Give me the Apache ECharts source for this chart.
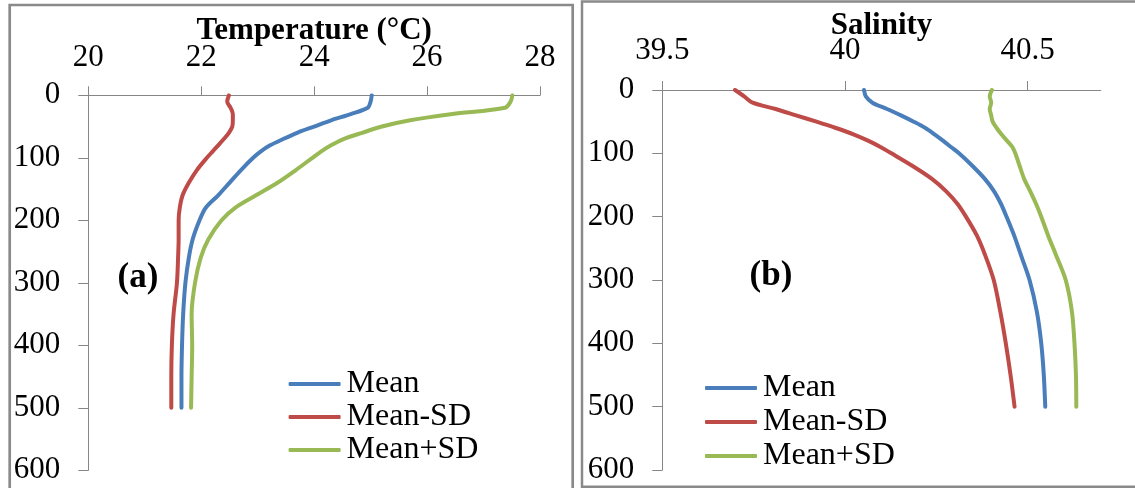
<!DOCTYPE html>
<html>
<head>
<meta charset="utf-8">
<script src="https://cdn.jsdelivr.net/npm/echarts@6/dist/echarts.min.js"></script>
<style>
  html, body { margin: 0; padding: 0; background: #fff; }
  #chart { width: 1135px; height: 488px; }
</style>
</head>
<body>
<div id="chart"></div>
<script>
// depth levels (m), shared by every profile
const depth = [0, 10, 20, 30, 40, 50, 60, 70, 80, 90, 100, 120, 140, 160, 180, 200, 230, 260, 300, 350, 400, 450, 500];

// temperature profiles (°C)
const tempMean   = [25.02, 25.00, 24.95, 24.65, 24.30, 24.00, 23.70, 23.45, 23.22, 23.05, 22.92, 22.70, 22.50, 22.30, 22.08, 21.97, 21.85, 21.78, 21.72, 21.68, 21.66, 21.65, 21.65];
const tempMinus  = [22.49, 22.46, 22.52, 22.56, 22.56, 22.55, 22.49, 22.40, 22.30, 22.20, 22.10, 21.92, 21.78, 21.67, 21.62, 21.60, 21.60, 21.59, 21.57, 21.51, 21.48, 21.47, 21.47];
const tempPlus   = [27.51, 27.48, 27.38, 26.45, 25.70, 25.20, 24.85, 24.52, 24.30, 24.12, 23.97, 23.67, 23.35, 22.97, 22.60, 22.36, 22.13, 21.99, 21.89, 21.83, 21.84, 21.83, 21.82];

// salinity profiles
const salMean  = [40.052, 40.057, 40.075, 40.115, 40.153, 40.188, 40.220, 40.245, 40.268, 40.290, 40.312, 40.349, 40.382, 40.408, 40.427, 40.442, 40.463, 40.481, 40.505, 40.525, 40.537, 40.544, 40.548];
const salMinus = [39.699, 39.724, 39.747, 39.810, 39.866, 39.922, 39.975, 40.023, 40.063, 40.097, 40.127, 40.185, 40.237, 40.277, 40.308, 40.331, 40.361, 40.383, 40.407, 40.425, 40.440, 40.453, 40.464];
const salPlus  = [40.402, 40.396, 40.400, 40.396, 40.400, 40.404, 40.415, 40.428, 40.443, 40.458, 40.466, 40.478, 40.490, 40.507, 40.523, 40.537, 40.556, 40.577, 40.604, 40.621, 40.628, 40.632, 40.633];

// axis ticks
const tempTicks  = [20, 22, 24, 26, 28];
const salTicks   = [39.5, 40, 40.5];
const depthTicks = [0, 100, 200, 300, 400, 500, 600];

const seriesNames = ['Mean', 'Mean-SD', 'Mean+SD'];
const colors = ['#4a7ebb', '#be4b48', '#98b954'];

const serif = "'Liberation Serif', 'Times New Roman', serif";
const axisGray = '#868686';

function pairs(vals) {
    return vals.map((v, i) => [v, depth[i]]);
}

function xAxisFor(idx, name, min, max, ticks, margin, gap) {
    return {
        gridIndex: idx,
        type: 'value',
        position: 'top',
        name: name,
        nameLocation: 'middle',
        nameGap: gap,
        nameMoveOverlap: false,
        nameTextStyle: { fontFamily: serif, fontSize: 31, fontWeight: 'bold', color: '#000' },
        min: min,
        max: max,
        interval: ticks[1] - ticks[0],
        axisLine: { show: true, lineStyle: { color: axisGray, width: 1 } },
        axisTick: { show: true, length: 9, customValues: ticks, lineStyle: { color: axisGray } },
        axisLabel: { customValues: ticks, margin: margin, fontFamily: serif, fontSize: 31, color: '#000' },
        splitLine: { show: false }
    };
}

function yAxisFor(idx) {
    return {
        gridIndex: idx,
        type: 'value',
        inverse: true,
        min: 0,
        max: 600,
        interval: 100,
        axisLine: { show: true, lineStyle: { color: axisGray, width: 1 } },
        axisTick: { show: true, length: 10, customValues: depthTicks, lineStyle: { color: axisGray } },
        axisLabel: { customValues: depthTicks, margin: 28, fontFamily: serif, fontSize: 31, color: '#000' },
        splitLine: { show: false }
    };
}

function line(name, vals, idx, color) {
    return {
        name: name,
        type: 'line',
        xAxisIndex: idx,
        yAxisIndex: idx,
        data: pairs(vals),
        smooth: 0.3,
        symbol: 'none',
        lineStyle: { color: color, width: 4, cap: 'round', join: 'round' },
        itemStyle: { color: color }
    };
}

function legendAt(left, top, gap) {
    return {
        orient: 'vertical',
        left: left,
        top: top,
        padding: 0,
        itemGap: gap,
        itemWidth: 52,
        itemHeight: 4,
        icon: 'roundRect',
        data: seriesNames,
        textStyle: { fontFamily: serif, fontSize: 32, color: '#000', padding: [0, 0, 0, 1] }
    };
}

window.onload = () => {
    let chart = echarts.init(document.getElementById('chart'));
    let option = {
        animation: false,
        backgroundColor: '#fff',
        grid: [
            { left: 88.3, top: 95.3, width: 451.7, height: 375, outerBoundsMode: 'none' },
            { left: 662.3, top: 90, width: 438.5, height: 380, outerBoundsMode: 'none' }
        ],
        xAxis: [
            xAxisFor(0, 'Temperature (°C)', 20, 28, tempTicks, 22, 49),
            xAxisFor(1, 'Salinity', 39.5, 40.7, salTicks, 24, 49)
        ],
        yAxis: [yAxisFor(0), yAxisFor(1)],
        legend: [legendAt(288.6, 368, 1), legendAt(705, 372, 2)],
        graphic: [
            { type: 'rect', silent: true, shape: { x: 9.7, y: 5, width: 563, height: 500 },
              style: { fill: 'none', stroke: '#8a8a8a', lineWidth: 2.7 } },
            { type: 'rect', silent: true, shape: { x: 582, y: 1.5, width: 600, height: 485.2 },
              style: { fill: 'none', stroke: '#8a8a8a', lineWidth: 2.5 } },
            { type: 'text', silent: true, style: { x: 138, y: 278, text: '(a)', align: 'center', verticalAlign: 'middle',
              font: 'bold 35px ' + serif, fill: '#000' } },
            { type: 'text', silent: true, style: { x: 771, y: 276, text: '(b)', align: 'center', verticalAlign: 'middle',
              font: 'bold 35px ' + serif, fill: '#000' } }
        ],
        series: [
            line('Mean', tempMean, 0, colors[0]),
            line('Mean-SD', tempMinus, 0, colors[1]),
            line('Mean+SD', tempPlus, 0, colors[2]),
            line('Mean', salMean, 1, colors[0]),
            line('Mean-SD', salMinus, 1, colors[1]),
            line('Mean+SD', salPlus, 1, colors[2])
        ]
    };
    chart.setOption(option);
};
</script>
</body>
</html>
